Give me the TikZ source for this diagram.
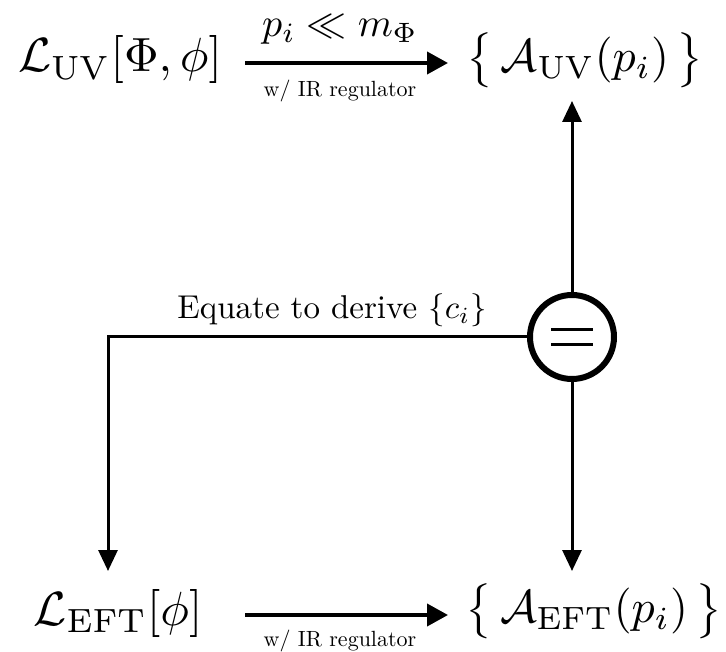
\documentclass[tikz,border=0pt]{standalone}
\usetikzlibrary{arrows.meta}
\begin{document}
\begin{tikzpicture}[x=1pt,y=-1pt,
  big/.style={scale=4.8, inner sep=0pt},
  bigset/.style={scale=4.6, inner sep=0pt},
  mid/.style={scale=3.3, inner sep=0pt},
  lab/.style={scale=4.0, inner sep=0pt},
  small/.style={scale=2.2, inner sep=0pt},
  thickarrow/.style={line width=4pt, -{Triangle[length=21pt,width=22pt]}},
  connarrow/.style={line width=3pt, -{Triangle[length=21pt,width=19pt]}}]
\useasboundingbox (0,0) rectangle (726,652);
\node[big] (luv) at (120,60) {$\mathcal{L}_{\rm UV}[\Phi,\phi]$};
\node[bigset] (auv) at (585,60) {$\bigl\{\,\mathcal{A}_{\rm UV}(p_i)\,\bigr\}$};
\node[big] (left) at (118,613) {$\mathcal{L}_{\rm EFT}[\phi]$};
\node[bigset] (aeft) at (594,611) {$\bigl\{\,\mathcal{A}_{\rm EFT}(p_i)\,\bigr\}$};
\node[draw, circle, line width=6pt, minimum size=84pt, inner sep=0pt] (eq) at (572,337) {};
\draw[line width=3pt] (551,330) -- (593,330) (551,345) -- (593,345);
\coordinate (t1) at (245,63);
\coordinate (t2) at (448,63);
\coordinate (b1) at (245,615);
\coordinate (b2) at (448,615);
\draw[thickarrow] (t1) -- (t2);
\draw[thickarrow] (b1) -- (b2);
\node[lab] (lab1) at (340,30) {$p_i \ll m_\Phi$};
\node[small] (lab2) at (340,91) {w/ IR regulator};
\node[small] (lab3) at (340,641) {w/ IR regulator};
\coordinate (up) at (572,101);
\coordinate (dn) at (572,571);
\coordinate (corner) at (108,337);
\coordinate (ldn) at (108,571);
\draw[connarrow] (eq.north) -- (up);
\draw[connarrow] (eq.south) -- (dn);
\draw[connarrow] (eq.west) -- (corner) -- (ldn);
\node[mid] (lab4) at (332,310) {Equate to derive $\{c_i\}$};
\end{tikzpicture}
\end{document}
